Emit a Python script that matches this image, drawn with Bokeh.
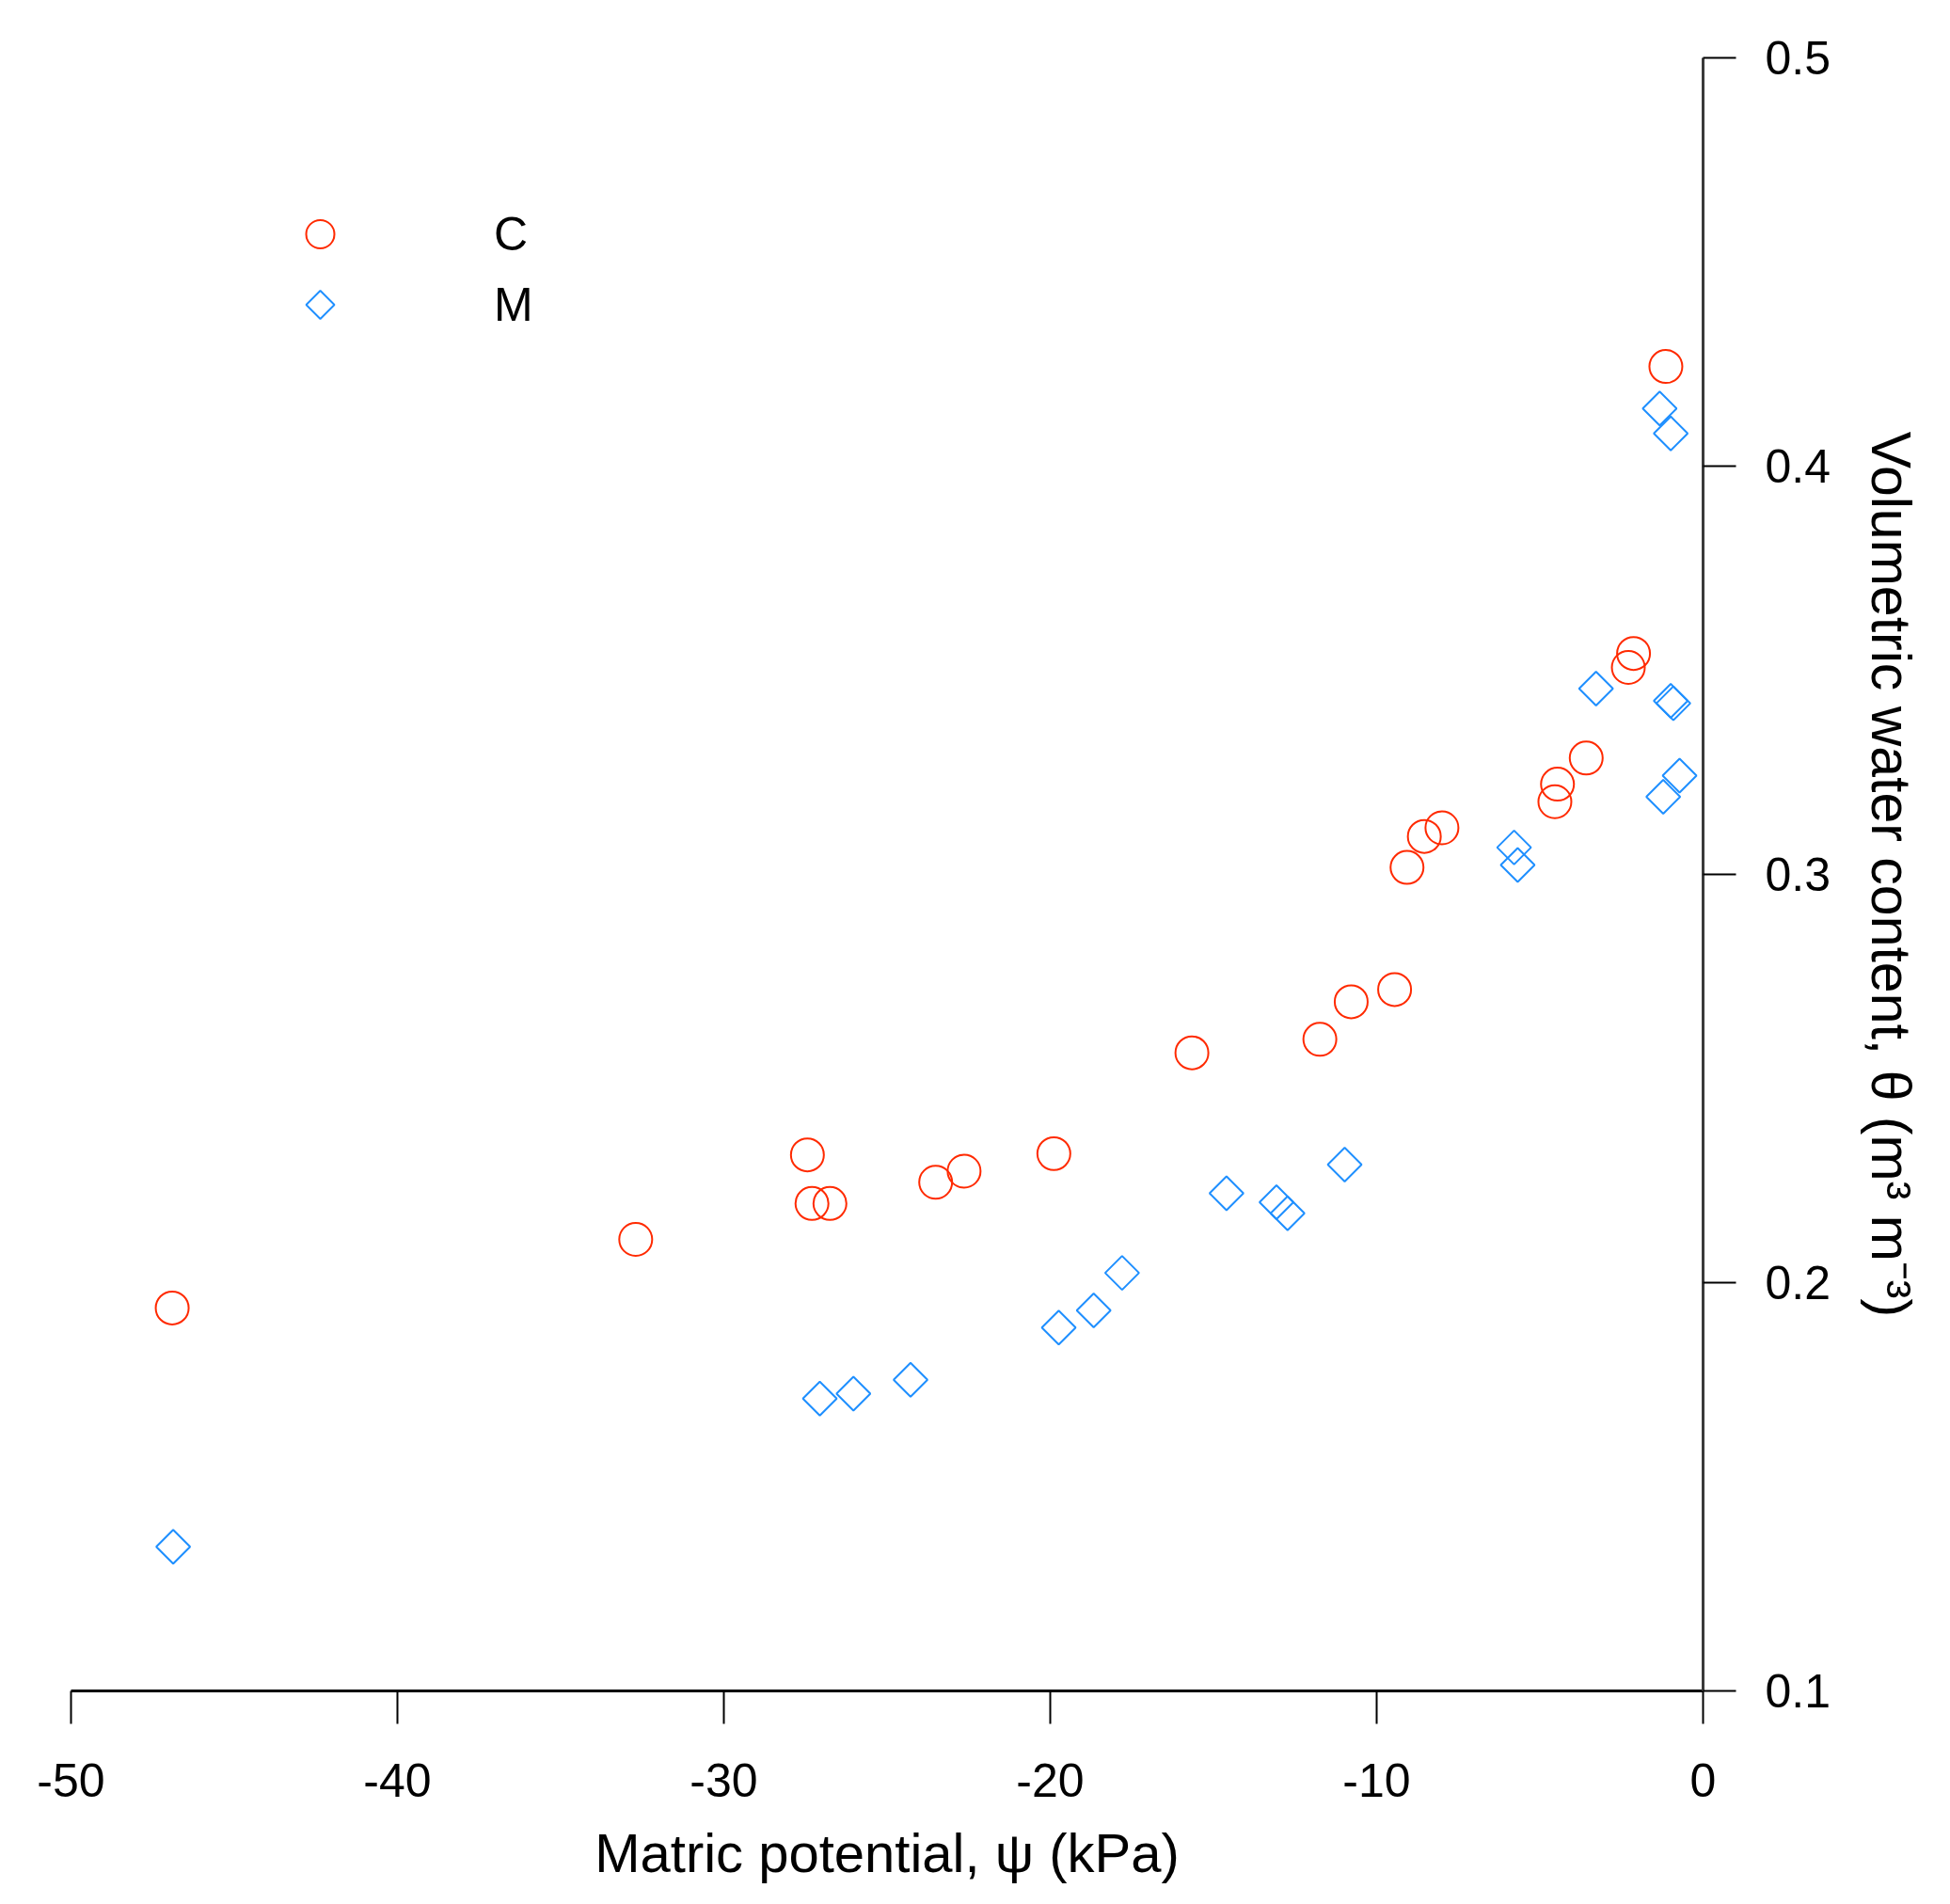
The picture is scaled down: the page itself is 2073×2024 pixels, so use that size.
from bokeh.plotting import figure
from bokeh.models import Range1d, FixedTicker, Legend, LegendItem
from bokeh.embed import file_html
from bokeh.resources import INLINE

# ---- data ----
c_psi = [-46.9, -32.7, -27.44, -27.3, -26.75, -23.51, -22.64, -19.89, -15.66, -11.74,
         -10.78, -9.45, -9.07, -8.54, -8.0, -4.54, -4.46, -3.58, -2.29, -2.13, -1.14]
c_theta = [0.1938, 0.2106, 0.2313, 0.2194, 0.2194, 0.2246, 0.2273, 0.2316, 0.2563, 0.2596,
           0.2688, 0.2718, 0.3017, 0.3093, 0.3114, 0.3178, 0.3221, 0.3285, 0.3507, 0.3541, 0.4244]

m_psi = [-46.87, -27.06, -26.03, -24.28, -19.74, -18.67, -17.80, -14.60, -13.07, -12.73,
         -10.98, -5.79, -5.68, -3.28, -1.33, -0.99, -0.99, -0.91, -1.22, -0.72]
m_theta = [0.1353, 0.1716, 0.1728, 0.1762, 0.1890, 0.1932, 0.2024, 0.2219, 0.2197, 0.2170,
           0.2289, 0.3066, 0.3023, 0.3455, 0.4141, 0.4080, 0.3425, 0.3419, 0.3190, 0.3242]

series_labels = ["C", "M"]
x_ticks = [-50, -40, -30, -20, -10, 0]
x_tick_labels = ["-50", "-40", "-30", "-20", "-10", "0"]
y_ticks = [0.1, 0.2, 0.3, 0.4, 0.5]
y_tick_labels = ["0.1", "0.2", "0.3", "0.4", "0.5"]

FONT = "Liberation Sans"
RED = "#ff2a00"
BLUE = "#1e8fff"

p = figure(frame_width=1735, frame_height=1736,
           x_range=Range1d(-50, 0), y_range=Range1d(0.1, 0.5),
           x_axis_location="below", y_axis_location="right",
           output_backend="svg", toolbar_location=None,
           min_border_left=75, min_border_top=61,
           min_border_right=10, min_border_bottom=10)

p.outline_line_color = None
p.xgrid.grid_line_color = None
p.ygrid.grid_line_color = None
p.background_fill_color = "white"
p.border_fill_color = "white"

rc = p.scatter(c_psi, c_theta, marker="circle", size=35, fill_color=None,
               line_color=RED, line_width=2)
rm = p.ngon(x=m_psi, y=m_theta, radius=18, n=4, radius_units="screen",
            fill_color=None, line_color=BLUE, line_width=2)

xa = p.xaxis[0]
xa.ticker = FixedTicker(ticks=x_ticks)
xa.major_label_overrides = dict(zip(x_ticks, x_tick_labels))
xa.minor_tick_line_color = None
xa.major_tick_in = 0
xa.major_tick_out = 35
xa.major_tick_line_width = 2
xa.axis_line_width = 3
xa.axis_line_color = "black"
xa.major_label_text_font = FONT
xa.major_label_text_font_size = "50px"
xa.major_label_text_color = "black"
xa.major_label_standoff = 42
xa.axis_label = "Matric potential, \u03c8 (kPa)"
xa.axis_label_text_font = FONT
xa.axis_label_text_font_size = "58px"
xa.axis_label_text_font_style = "normal"
xa.axis_label_text_color = "black"
xa.axis_label_standoff = 24

ya = p.yaxis[0]
ya.ticker = FixedTicker(ticks=y_ticks)
ya.major_label_overrides = dict(zip(y_ticks, y_tick_labels))
ya.minor_tick_line_color = None
ya.major_tick_in = 0
ya.major_tick_out = 35
ya.major_tick_line_width = 2
ya.axis_line_width = 3
ya.axis_line_color = "#3a3a3a"
ya.major_label_text_font = FONT
ya.major_label_text_font_size = "50px"
ya.major_label_text_color = "black"
ya.major_label_standoff = 31
ya.axis_label = "Volumetric water content, \u03b8 (m\u00b3 m\u207b\u00b3)"
ya.axis_label_text_font = FONT
ya.axis_label_text_font_size = "59px"
ya.axis_label_text_font_style = "normal"
ya.axis_label_text_color = "black"
ya.axis_label_standoff = 28

legend = Legend(items=[LegendItem(label=series_labels[0], renderers=[rc]),
                       LegendItem(label=series_labels[1], renderers=[rm])],
                location="top_left")
legend.margin = 150
legend.padding = 0
legend.glyph_width = 230
legend.glyph_height = 75
legend.spacing = 0
legend.label_standoff = 70
legend.label_text_font = FONT
legend.label_text_font_size = "50px"
legend.label_text_color = "black"
legend.border_line_color = None
legend.background_fill_alpha = 0
p.add_layout(legend)

open("out.html", "w").write(file_html(p, INLINE))
